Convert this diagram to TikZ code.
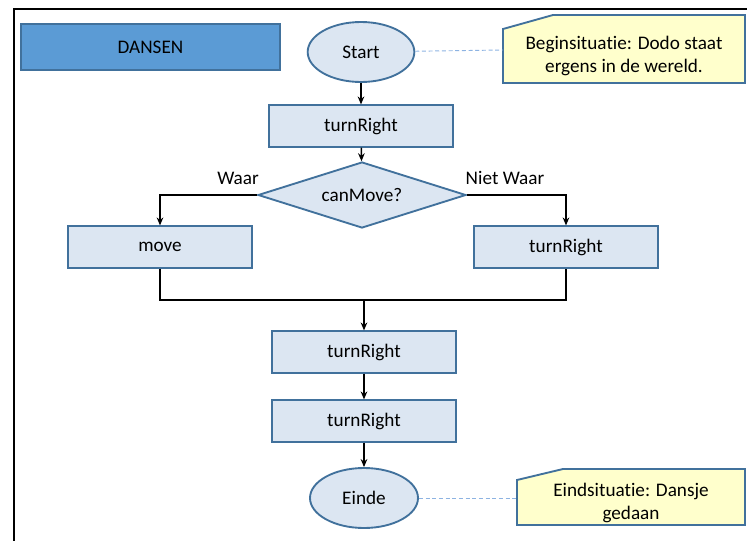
\documentclass[tikz,border=0pt]{standalone}
\usepackage{fontspec}
\setmainfont{Carlito}[Ligatures=CommonOff]
\usepackage{xcolor}
\usepackage{tikz}
\usetikzlibrary{arrows.meta,shapes}

\definecolor{kader}{HTML}{41719C}
\definecolor{licht}{HTML}{DCE6F2}
\definecolor{titel}{HTML}{5B9BD5}
\definecolor{geel}{HTML}{FFFFCC}
\definecolor{stip}{HTML}{8DB3E2}

\tikzset{
  stap/.style={rectangle, draw=kader, fill=licht, line width=1.4pt,
    minimum width=138pt, minimum height=31pt, inner sep=0pt},
  grens/.style={ellipse, draw=kader, fill=licht, line width=1.4pt,
    minimum width=80pt, minimum height=45pt, inner sep=0pt},
  keuze/.style={diamond, draw=kader, fill=licht, line width=1.4pt, aspect=3.15,
    minimum width=156pt, minimum height=49.5pt, inner sep=0pt},
  notitie/.style={draw=kader, fill=geel, line width=1.4pt},
  uitleg/.style={align=center, inner sep=0pt, font=\fontsize{14.4}{17}\selectfont},
  lijn/.style={draw=black, line width=1.2pt},
  pijl/.style={lijn, -{Stealth[length=6pt,width=5pt]}},
  stippel/.style={draw=stip, densely dashed, line width=0.7pt}
}

\begin{document}
\begin{tikzpicture}[x=0.75pt, y=-0.75pt, font=\fontsize{14.4}{17}\selectfont]
        \useasboundingbox (0,0) rectangle (747,540);
        \draw[line width=2pt] (14,542) -- (14,9) -- (749,9);

        \node[rectangle, draw=kader, fill=titel, line width=1.4pt,
          minimum width=194pt, minimum height=34.5pt] (titel) at (150.5,47) {DANSEN};

        %\draw[notitie] polygons first, text on top
        \draw[notitie] (503,83) -- (503,29) -- (553,15) -- (745,15) -- (745,83) -- cycle;
        \draw[notitie] (517,525) -- (517,480) -- (563,469) -- (745,469) -- (745,525) -- cycle;
        \node[uitleg] (begin) at (624,56)
          {Beginsituatie: Dodo staat\\ergens in de wereld.};
        \node[uitleg] (eind) at (631,503)
          {Eindsituatie: Dansje\\gedaan};
        \coordinate (beginrand) at (503,50);
        \coordinate (eindrand) at (517,498);

        \node[grens] (start) at (361,52) {Start};
        \node[stap] (draai1) at (361,126) {turnRight};
        \node[keuze] (vraag) at (362,195) {canMove?};
        \node[stap] (move) at (160,247) {move};
        \node[stap] (draai2) at (566,247) {turnRight};
        \coordinate (samen) at (364,300);
        \node[stap] (draai3) at (364,352) {turnRight};
        \node[stap] (draai4) at (364,421) {turnRight};
        \node[grens, minimum width=81pt] (einde) at (364,498) {Einde};

        \node (waar) at (238,178) {Waar};
        \node (nietwaar) at (505,178) {Niet Waar};

        \draw[stippel] (start) -- (beginrand);
        \draw[stippel] (einde) -- (eindrand);

        \draw[pijl] (start) -- (draai1);
        \draw[pijl] (draai1) -- (vraag);
        \draw[pijl] (vraag.west) -| (move);
        \draw[pijl] (vraag.east) -| (draai2);
        \draw[lijn] (move) |- (samen) -| (draai2);
        \draw[pijl] (samen) -- (draai3);
        \draw[pijl] (draai3) -- (draai4);
        \draw[pijl] (draai4) -- (einde);
    \end{tikzpicture}
\end{document}
